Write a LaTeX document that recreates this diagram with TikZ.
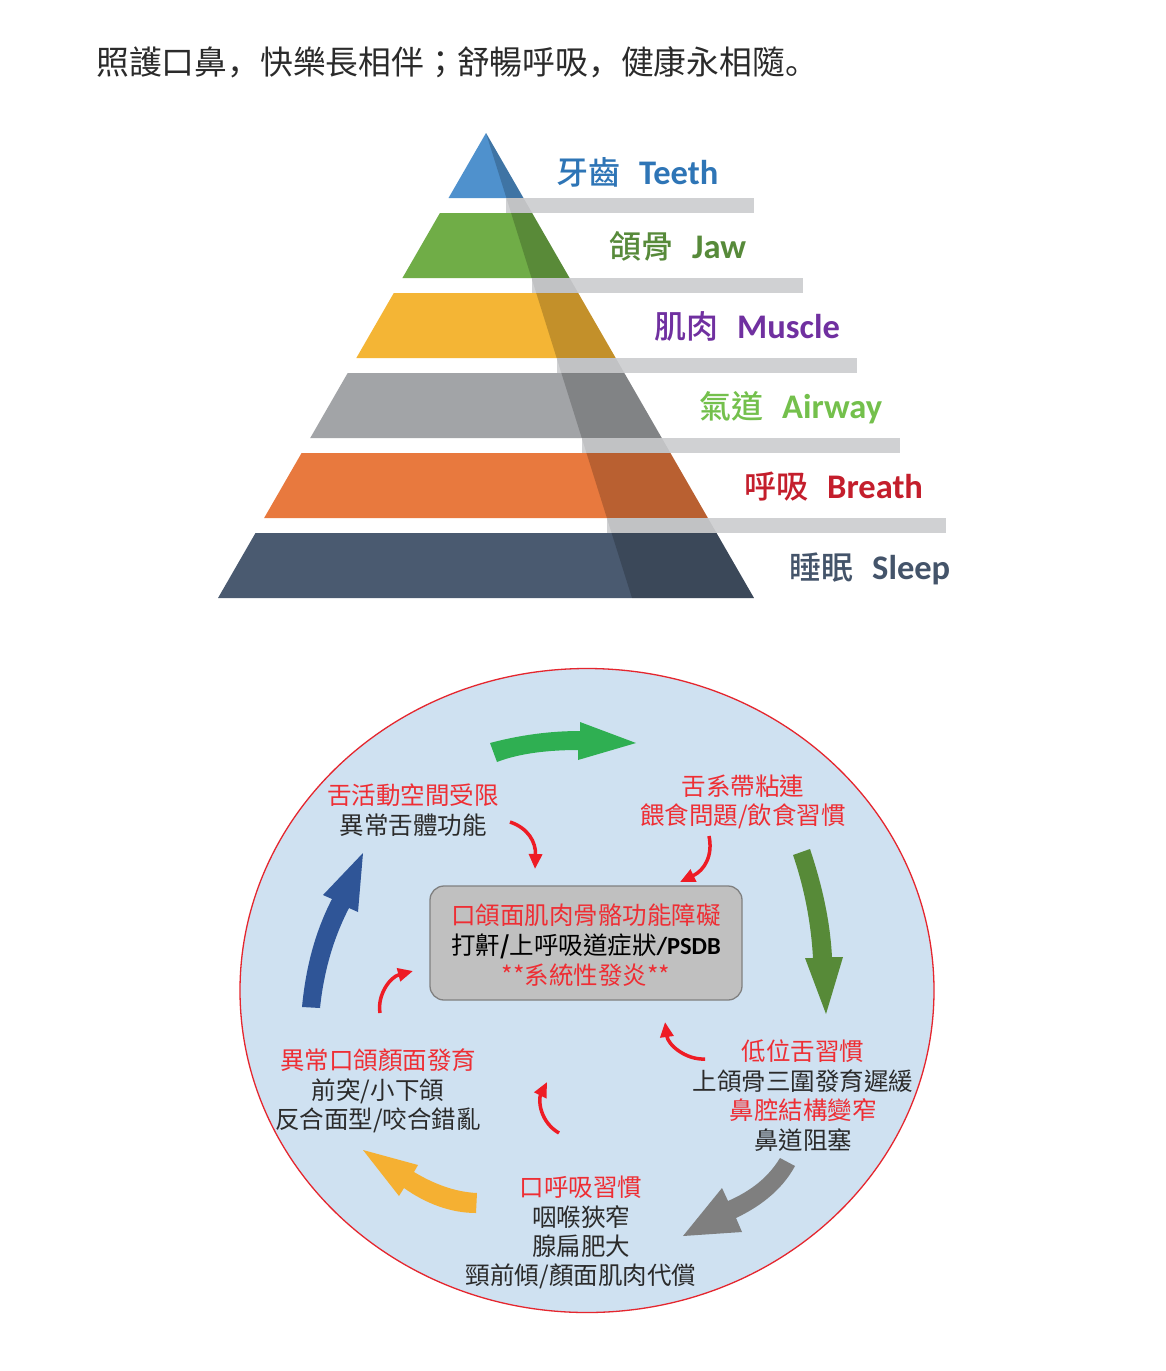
\documentclass[tikz,border=0pt]{standalone}
\usepackage{fontspec}
\newfontfamily\cjk{Noto Sans CJK TC}
\newfontfamily\cjkp{Noto Sans CJK JP}
\newfontfamily\cjkm{Noto Sans CJK TC Medium}
\newfontfamily\carl{Carlito}
\usetikzlibrary{arrows.meta}
\definecolor{pblue}{HTML}{4F91CD}
\definecolor{pgreen}{HTML}{70AD47}
\definecolor{pyellow}{HTML}{F4B535}
\definecolor{pgray}{HTML}{A2A4A7}
\definecolor{porange}{HTML}{E8793E}
\definecolor{pdark}{HTML}{4A5A70}
\definecolor{barg}{HTML}{D0D1D3}
\definecolor{tblue}{HTML}{2E75B6}
\definecolor{tgreen}{HTML}{578A3A}
\definecolor{tpurple}{HTML}{7030A0}
\definecolor{tlgreen}{HTML}{74C04C}
\definecolor{tred}{HTML}{C41E2C}
\definecolor{tdark}{HTML}{44546A}
\definecolor{circb}{HTML}{CFE1F1}
\definecolor{circr}{HTML}{E5262E}
\definecolor{boxg}{HTML}{C0C0C0}
\definecolor{boxb}{HTML}{808080}
\definecolor{txtred}{HTML}{EE2E34}
\definecolor{txtdark}{HTML}{2B2B2B}
\definecolor{arrred}{HTML}{EE1C25}
\definecolor{agreen}{HTML}{2FAF52}
\definecolor{adgreen}{HTML}{578A38}
\definecolor{agray}{HTML}{7F7F7F}
\definecolor{ayellow}{HTML}{F5B032}
\definecolor{ablue}{HTML}{2F5597}
\newcommand{\plabel}[2]{{\cjkm\fontsize{32}{38}\selectfont #1}\hspace{19pt}{\carl\bfseries\fontsize{34.5}{40}\selectfont #2}}
\begin{document}
\begin{tikzpicture}[x=1pt,y=-1pt,
  plab/.style={inner sep=0pt, anchor=base west},
  ctxt/.style={inner sep=0pt, anchor=base, font=\cjk\fontsize{24.5}{29}\selectfont},
  redt/.style={ctxt, text=txtred},
  darkt/.style={ctxt, text=txtdark},
  redarr/.style={draw=arrred, line width=3.5pt, -{Triangle[length=15pt,width=13pt]}}]
\useasboundingbox[fill=white] (0,0) rectangle (1165,1371);
% title
\node[inner sep=0pt, anchor=base west, text=txtdark, font=\cjk\fontsize{32.8}{39}\selectfont] (title) at (96,74) {照護口鼻{\cjkp ，}快樂長相伴{\cjkp ；}舒暢呼吸{\cjkp ，}健康永相隨{\cjkp 。}};
% pyramid layers
\foreach \t/\b/\c in {133/198/pblue,213/278/pgreen,293/358/pyellow,373/438/pgray,453/518/porange,533/598/pdark}{
  \fill[\c] ({486-0.5763*(\t-133)},\t) -- ({486+0.5763*(\t-133)},\t) -- ({486+0.5763*(\b-133)},\b) -- ({486-0.5763*(\b-133)},\b) -- cycle;
  \fill[black,opacity=0.2] ({486+0.314*(\t-133)},\t) -- ({486+0.5763*(\t-133)},\t) -- ({486+0.5763*(\b-133)},\b) -- ({486+0.314*(\b-133)},\b) -- cycle;
}
% bars
\foreach \t/\e in {198/754,278/803,358/857,438/900,518/946}{
  \fill[barg] ({486+0.314*(\t-133)},\t) rectangle (\e,{\t+15});
  \fill[black,opacity=0.07] ({486+0.314*(\t-133)},\t) -- ({486+0.5763*(\t-133)},\t) -- ({486+0.5763*(\t+15-133)},{\t+15}) -- ({486+0.314*(\t+15-133)},{\t+15}) -- cycle;
}
% pyramid labels
\node[plab, text=tblue] (lteeth) at (556,184) {\plabel{牙齒}{Teeth}};
\node[plab, text=tgreen] (ljaw) at (609,258) {\plabel{頜骨}{Jaw}};
\node[plab, text=tpurple] (lmuscle) at (654,338) {\plabel{肌肉}{Muscle}};
\node[plab, text=tlgreen] (lairway) at (699,418) {\plabel{氣道}{Airway}};
\node[plab, text=tred] (lbreath) at (744,498) {\plabel{呼吸}{Breath}};
\node[plab, text=tdark] (lsleep) at (789,579) {\plabel{睡眠}{Sleep}};
% circle
\fill[circb] (587,990.5) ellipse [x radius=347pt, y radius=322pt];
\draw[circr, line width=1.3pt] (587,990.5) ellipse [x radius=347pt, y radius=322pt];
% center box
\node[draw=boxb, fill=boxg, rounded corners=14pt, line width=1.3pt, minimum width=312pt, minimum height=114pt, inner sep=0pt] (core) at (586,943) {};
\node[redt] (c1) at (586,924) {口頜面肌肉骨骼功能障礙};
\node[ctxt, text=black] (c2) at (586,954) {打鼾{\fontspec{Noto Sans CJK TC Bold}/}上呼吸道症狀{\carl\bfseries /PSDB}};
\node[redt] (c3) at (586,984) {**系統性發炎**};
% text groups
\node[redt] (tl1) at (413,804) {舌活動空間受限};
\node[darkt] (tl2) at (413,834) {異常舌體功能};
\node[redt] (tr1) at (743,795) {舌系帶粘連};
\node[redt] (tr2) at (743,824) {餵食問題/飲食習慣};
\node[redt] (r1) at (803,1060) {低位舌習慣};
\node[darkt] (r2) at (803,1090) {上頜骨三圍發育遲緩};
\node[redt] (r3) at (803,1119) {鼻腔結構變窄};
\node[darkt] (r4) at (803,1149) {鼻道阻塞};
\node[redt] (b1) at (581,1196) {口呼吸習慣};
\node[darkt] (b2) at (581,1226) {咽喉狹窄};
\node[darkt] (b3) at (581,1255) {腺扁肥大};
\node[darkt] (b4) at (581,1284) {頸前傾/顏面肌肉代償};
\node[redt] (l1) at (378,1069) {異常口頜顏面發育};
\node[darkt] (l2) at (378,1099) {前突/小下頜};
\node[darkt] (l3) at (378,1128) {反合面型/咬合錯亂};
% big curved arrows
\fill[agreen] (490,743) .. controls (520,735) and (550,731) .. (580,731) -- (580,722) -- (636,743) -- (578,760) -- (578,750) .. controls (550,750) and (520,753) .. (497,762) -- cycle;
\fill[adgreen] (793,855) -- (810,849) .. controls (822,885) and (830,920) .. (832,957) -- (843,957) -- (826,1014) -- (805,958) -- (813,958) .. controls (811,922) and (804,887) .. (793,855) -- cycle;
\fill[agray] (780,1158) .. controls (766,1181) and (746,1193) .. (728,1201) -- (722,1188) -- (683,1236) -- (742,1232) -- (736,1218) .. controls (757,1208) and (781,1192) .. (795,1166) -- cycle;
\fill[ayellow] (477,1193) .. controls (455,1192) and (434,1184) .. (414,1172) -- (418,1165) -- (363,1150) -- (399,1196) -- (404,1188) .. controls (425,1203) and (450,1213) .. (476,1213) -- cycle;
\fill[ablue] (302,1007) .. controls (306,965) and (316,930) .. (332,899) -- (323,895) -- (363,853) -- (358,912) -- (349,908) .. controls (334,937) and (324,970) .. (320,1008) -- cycle;
% small red arrows
\coordinate (a1) at (510,822); \coordinate (a2) at (535,869);
\coordinate (b1s) at (709,836); \coordinate (b2s) at (680,882);
\coordinate (c1s) at (705,1059); \coordinate (c2s) at (665,1022);
\coordinate (d1s) at (559,1133); \coordinate (d2s) at (547,1082);
\coordinate (e1s) at (380,1013); \coordinate (e2s) at (413,971);
\draw[redarr] (a1) .. controls (528,828) and (536,842) .. (a2);
\draw[redarr] (b1s) .. controls (713,855) and (705,870) .. (b2s);
\draw[redarr] (c1s) .. controls (686,1060) and (668,1045) .. (c2s);
\draw[redarr] (d1s) .. controls (540,1122) and (538,1100) .. (d2s);
\draw[redarr] (e1s) .. controls (377,995) and (390,977) .. (e2s);
\end{tikzpicture}
\end{document}
